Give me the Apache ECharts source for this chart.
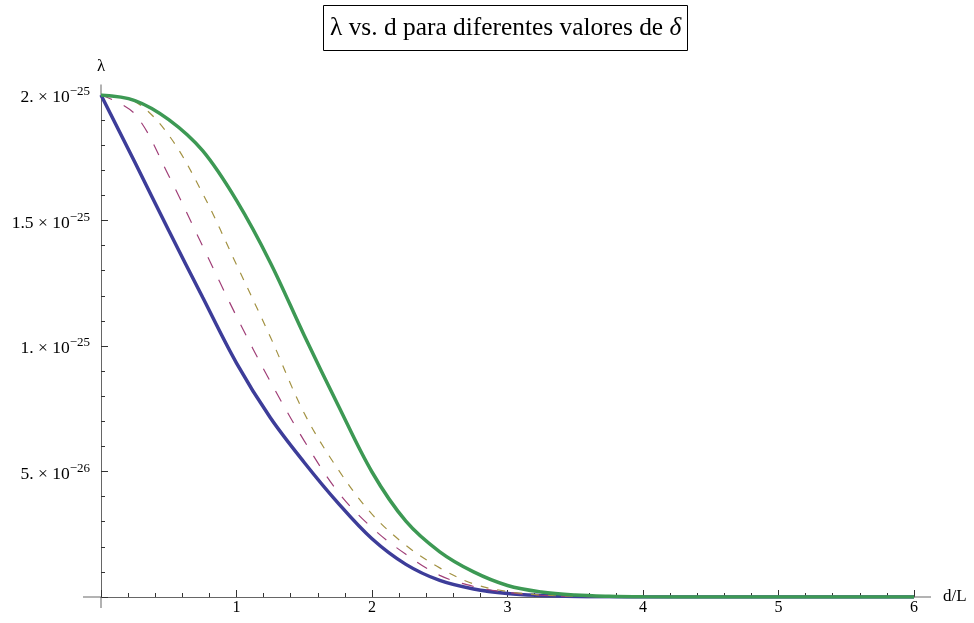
<!DOCTYPE html>
<html>
<head>
<meta charset="utf-8">
<title>lambda vs d</title>
<script src="https://cdn.jsdelivr.net/npm/echarts@6.0.0/dist/echarts.min.js"></script>
<style>
  html, body { margin: 0; padding: 0; background: #fff; }
  #chart { width: 974px; height: 623px; }
</style>
</head>
<body>
<div id="chart"></div>
<script>
// d/L values (x)
const dValues = [0, 0.25, 0.5, 0.75, 1, 1.25, 1.5, 1.75, 2, 2.25, 2.5, 2.75, 3, 3.25, 3.5, 3.75, 4, 4.5, 5, 5.5, 6]

// lambda, in units of 1e-26
const lambdaBlue = [20, 17.32, 14.6, 11.94, 9.32, 7.14, 5.36, 3.74, 2.32, 1.3, 0.66, 0.32, 0.14, 0.06, 0.02, 0.006, 0, 0, 0, 0, 0]
const lambdaMagenta = [20, 19.24, 16.78, 13.98, 11.18, 8.58, 6.22, 4.18, 2.76, 1.7, 0.86, 0.42, 0.18, 0.07, 0.02, 0.006, 0, 0, 0, 0, 0]
const lambdaGold = [20, 19.74, 18.4, 16.08, 13.24, 10.36, 7.32, 5.08, 3.3, 2.06, 1.16, 0.52, 0.22, 0.08, 0.03, 0.01, 0, 0, 0, 0, 0]
const lambdaGreen = [20, 19.78, 19.02, 17.78, 15.8, 13.32, 10.42, 7.64, 4.98, 3.02, 1.8, 1.0, 0.46, 0.2, 0.08, 0.03, 0.01, 0, 0, 0, 0]

// tick labels
const xTickLabels = { 1: '1', 2: '2', 3: '3', 4: '4', 5: '5', 6: '6' }
const yTickLabels = {
  5: ['5.', '−26'],
  10: ['1.', '−25'],
  15: ['1.5', '−25'],
  20: ['2.', '−25']
}

const serif = '"Liberation Serif", "DejaVu Serif", serif'

function pairs(ys) {
  return dValues.map((x, i) => [x, ys[i]])
}

const chart = echarts.init(document.getElementById('chart'))
chart.setOption({
  animation: false,
  title: {
    text: '{n|λ vs. d para diferentes valores de }{i|δ}',
    left: 323,
    top: 5,
    padding: [10, 7, 10, 7],
    borderWidth: 1,
    borderColor: '#000',
    textStyle: {
      fontWeight: 'normal',
      rich: {
        n: { fontFamily: serif, fontSize: 25.4, fontWeight: 'normal', color: '#000', lineHeight: 26 },
        i: { fontFamily: serif, fontSize: 25.4, fontWeight: 'normal', color: '#000', fontStyle: 'italic', lineHeight: 26 }
      }
    }
  },
  grid: {
    left: 101,
    right: 60,
    top: 95,
    bottom: 26
  },
  xAxis: {
    type: 'value',
    min: 0,
    max: 6,
    interval: 1,
    name: 'd/L',
    nameLocation: 'end',
    nameGap: 29,
    nameTextStyle: { fontFamily: serif, fontSize: 17, color: '#000' },
    axisLine: {
      lineStyle: { color: '#666', width: 1 },
      symbol: ['rect', 'rect'],
      symbolSize: [1, 18],
      symbolOffset: [-9, 8]
    },
    axisTick: { inside: true, length: 7, lineStyle: { color: '#333' } },
    minorTick: { show: true, splitNumber: 5, length: 4, lineStyle: { color: '#333' } },
    splitLine: { show: false },
    axisLabel: {
      margin: 3,
      fontFamily: serif,
      fontSize: 16,
      color: '#000',
      formatter: v => xTickLabels[v] || ''
    }
  },
  yAxis: {
    type: 'value',
    min: 0,
    max: 20,
    interval: 5,
    name: 'λ',
    nameLocation: 'end',
    nameGap: 20,
    nameTextStyle: { fontFamily: serif, fontSize: 17, color: '#000', align: 'center' },
    axisLine: {
      lineStyle: { color: '#666', width: 1 },
      symbol: ['rect', 'rect'],
      symbolSize: [1, 11],
      symbolOffset: [-5.5, 5]
    },
    axisTick: { inside: true, length: 7, lineStyle: { color: '#333' } },
    minorTick: { show: true, splitNumber: 5, length: 4, lineStyle: { color: '#333' } },
    splitLine: { show: false },
    axisLabel: {
      margin: 11,
      padding: [5, 0, 0, 0],
      formatter: v => {
        const t = yTickLabels[v]
        if (!t) return ''
        return '{b|' + t[0] + ' × 10}{s|' + t[1] + '}'
      },
      rich: {
        b: { fontFamily: serif, fontSize: 17.5, color: '#000', lineHeight: 24 },
        s: { fontFamily: serif, fontSize: 13, color: '#000', verticalAlign: 'top', lineHeight: 13 }
      }
    }
  },
  series: [
    {
      name: 'blue',
      type: 'line',
      data: pairs(lambdaBlue),
      smooth: 0.35,
      showSymbol: false,
      lineStyle: { color: '#3d3d99', width: 3.5 }
    },
    {
      name: 'magenta',
      type: 'line',
      data: pairs(lambdaMagenta),
      smooth: 0.35,
      showSymbol: false,
      lineStyle: { color: '#a03f78', width: 1.2, type: [12, 13] }
    },
    {
      name: 'gold',
      type: 'line',
      data: pairs(lambdaGold),
      smooth: 0.35,
      showSymbol: false,
      lineStyle: { color: '#a39243', width: 1.2, type: [8, 9] }
    },
    {
      name: 'green',
      type: 'line',
      data: pairs(lambdaGreen),
      smooth: 0.35,
      showSymbol: false,
      lineStyle: { color: '#3d9954', width: 3.5 }
    }
  ]
})
</script>
</body>
</html>
